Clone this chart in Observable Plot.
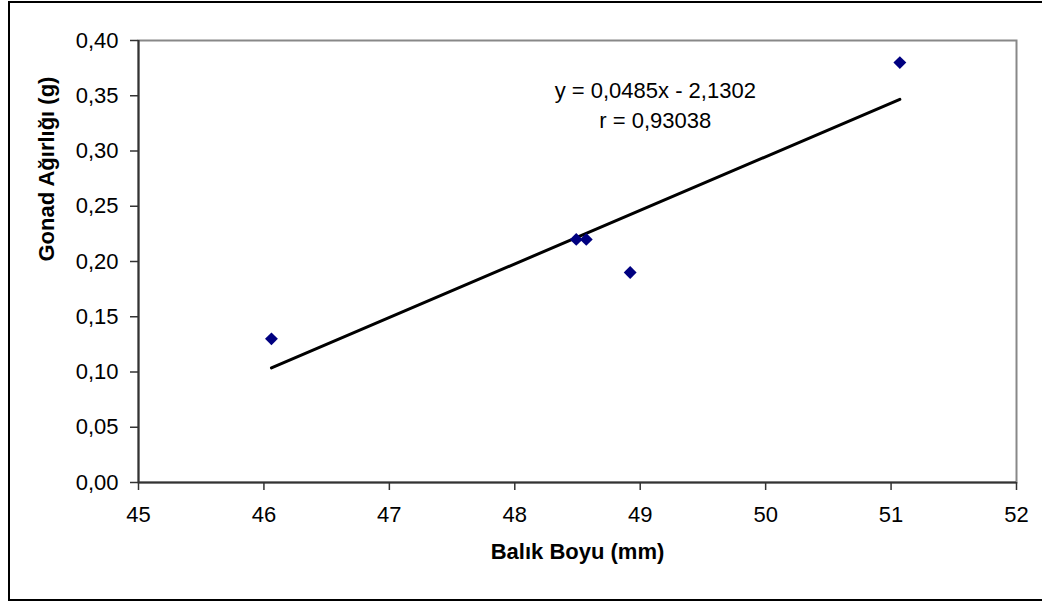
<!DOCTYPE html>
<html><head><meta charset="utf-8">
<script src="https://cdn.jsdelivr.net/npm/d3@7"></script>
<script src="https://cdn.jsdelivr.net/npm/@observablehq/plot@0.6"></script>
<style>
html,body{margin:0;padding:0;background:#fff;overflow:hidden;width:1042px;height:601px}
#outer{position:absolute;left:8px;top:1px;width:1100px;height:600px;border:2px solid #000;box-sizing:border-box}
#chart{position:absolute;left:0;top:0}
</style></head><body>
<div id="outer"></div><div id="chart"></div>
<script>
// Data
const lengths = [46.06, 48.49, 48.57, 48.92, 51.07];   // Balık Boyu (mm)
const weights = [0.13, 0.22, 0.22, 0.19, 0.38];        // Gonad Ağırlığı (g)
const slope = 0.0485;
const intercept = -2.1302;
const rValue = "0,93038";
const xTicks = [45, 46, 47, 48, 49, 50, 51, 52];
const yTicks = [0, 0.05, 0.10, 0.15, 0.20, 0.25, 0.30, 0.35, 0.40];
const xTitle = "Balık Boyu (mm)";
const yTitle = "Gonad Ağırlığı (g)";
const eqText = "y = 0,0485x - 2,1302";

const points = lengths.map((x, i) => ({x, y: weights[i]}));
const xMin = d3.min(lengths), xMax = d3.max(lengths);
const trend = [xMin, xMax].map(x => ({x, y: slope * x + intercept}));
const comma = d => d3.format(".2f")(d).replace(".", ",");

const chart = Plot.plot({
  width: 1042,
  height: 601,
  marginLeft: 138,
  marginRight: 26,
  marginTop: 40,
  marginBottom: 119,
  style: {fontFamily: "'Liberation Sans', Arial, sans-serif", fontSize: "22px", color: "#000", background: "transparent", overflow: "visible"},
  x: {domain: [45, 52]},
  y: {domain: [0, 0.4]},
  marks: [
    Plot.frame({stroke: "#888", strokeWidth: 2, strokeOpacity: 1}),
    Plot.ruleX([45], {stroke: "#333", strokeWidth: 2}),
    Plot.ruleY([0], {stroke: "#333", strokeWidth: 2}),
    Plot.axisX({ticks: xTicks, tickSize: 8, tickPadding: 16, stroke: "#333", strokeWidth: 1.5, fill: "#000", label: null, fontSize: 22, tickFormat: d => String(d)}),
    Plot.axisY({ticks: yTicks, tickSize: 8, tickPadding: 12, stroke: "#333", strokeWidth: 1.5, fill: "#000", label: null, fontSize: 22, tickFormat: comma}),
    Plot.line(trend, {x: "x", y: "y", stroke: "#000", strokeWidth: 3}),
    Plot.dot(points, {x: "x", y: "y", symbol: "diamond2", r: 5.8, fill: "#000080", stroke: "none"}),
    Plot.text([eqText + "\nr = " + rValue], {x: 49.12, y: 0.367, text: d => d, lineAnchor: "top", lineHeight: 1.36, fontSize: 22, fill: "#000"}),
    Plot.text([xTitle], {frameAnchor: "bottom", dy: 76, text: d => d, fontWeight: "bold", fontSize: 22, fill: "#000"}),
    Plot.text([yTitle], {frameAnchor: "left", dx: -92, rotate: -90, text: d => d, fontWeight: "bold", fontSize: 22, fill: "#000"})
  ]
});
document.getElementById("chart").appendChild(chart);
</script>
</body></html>
